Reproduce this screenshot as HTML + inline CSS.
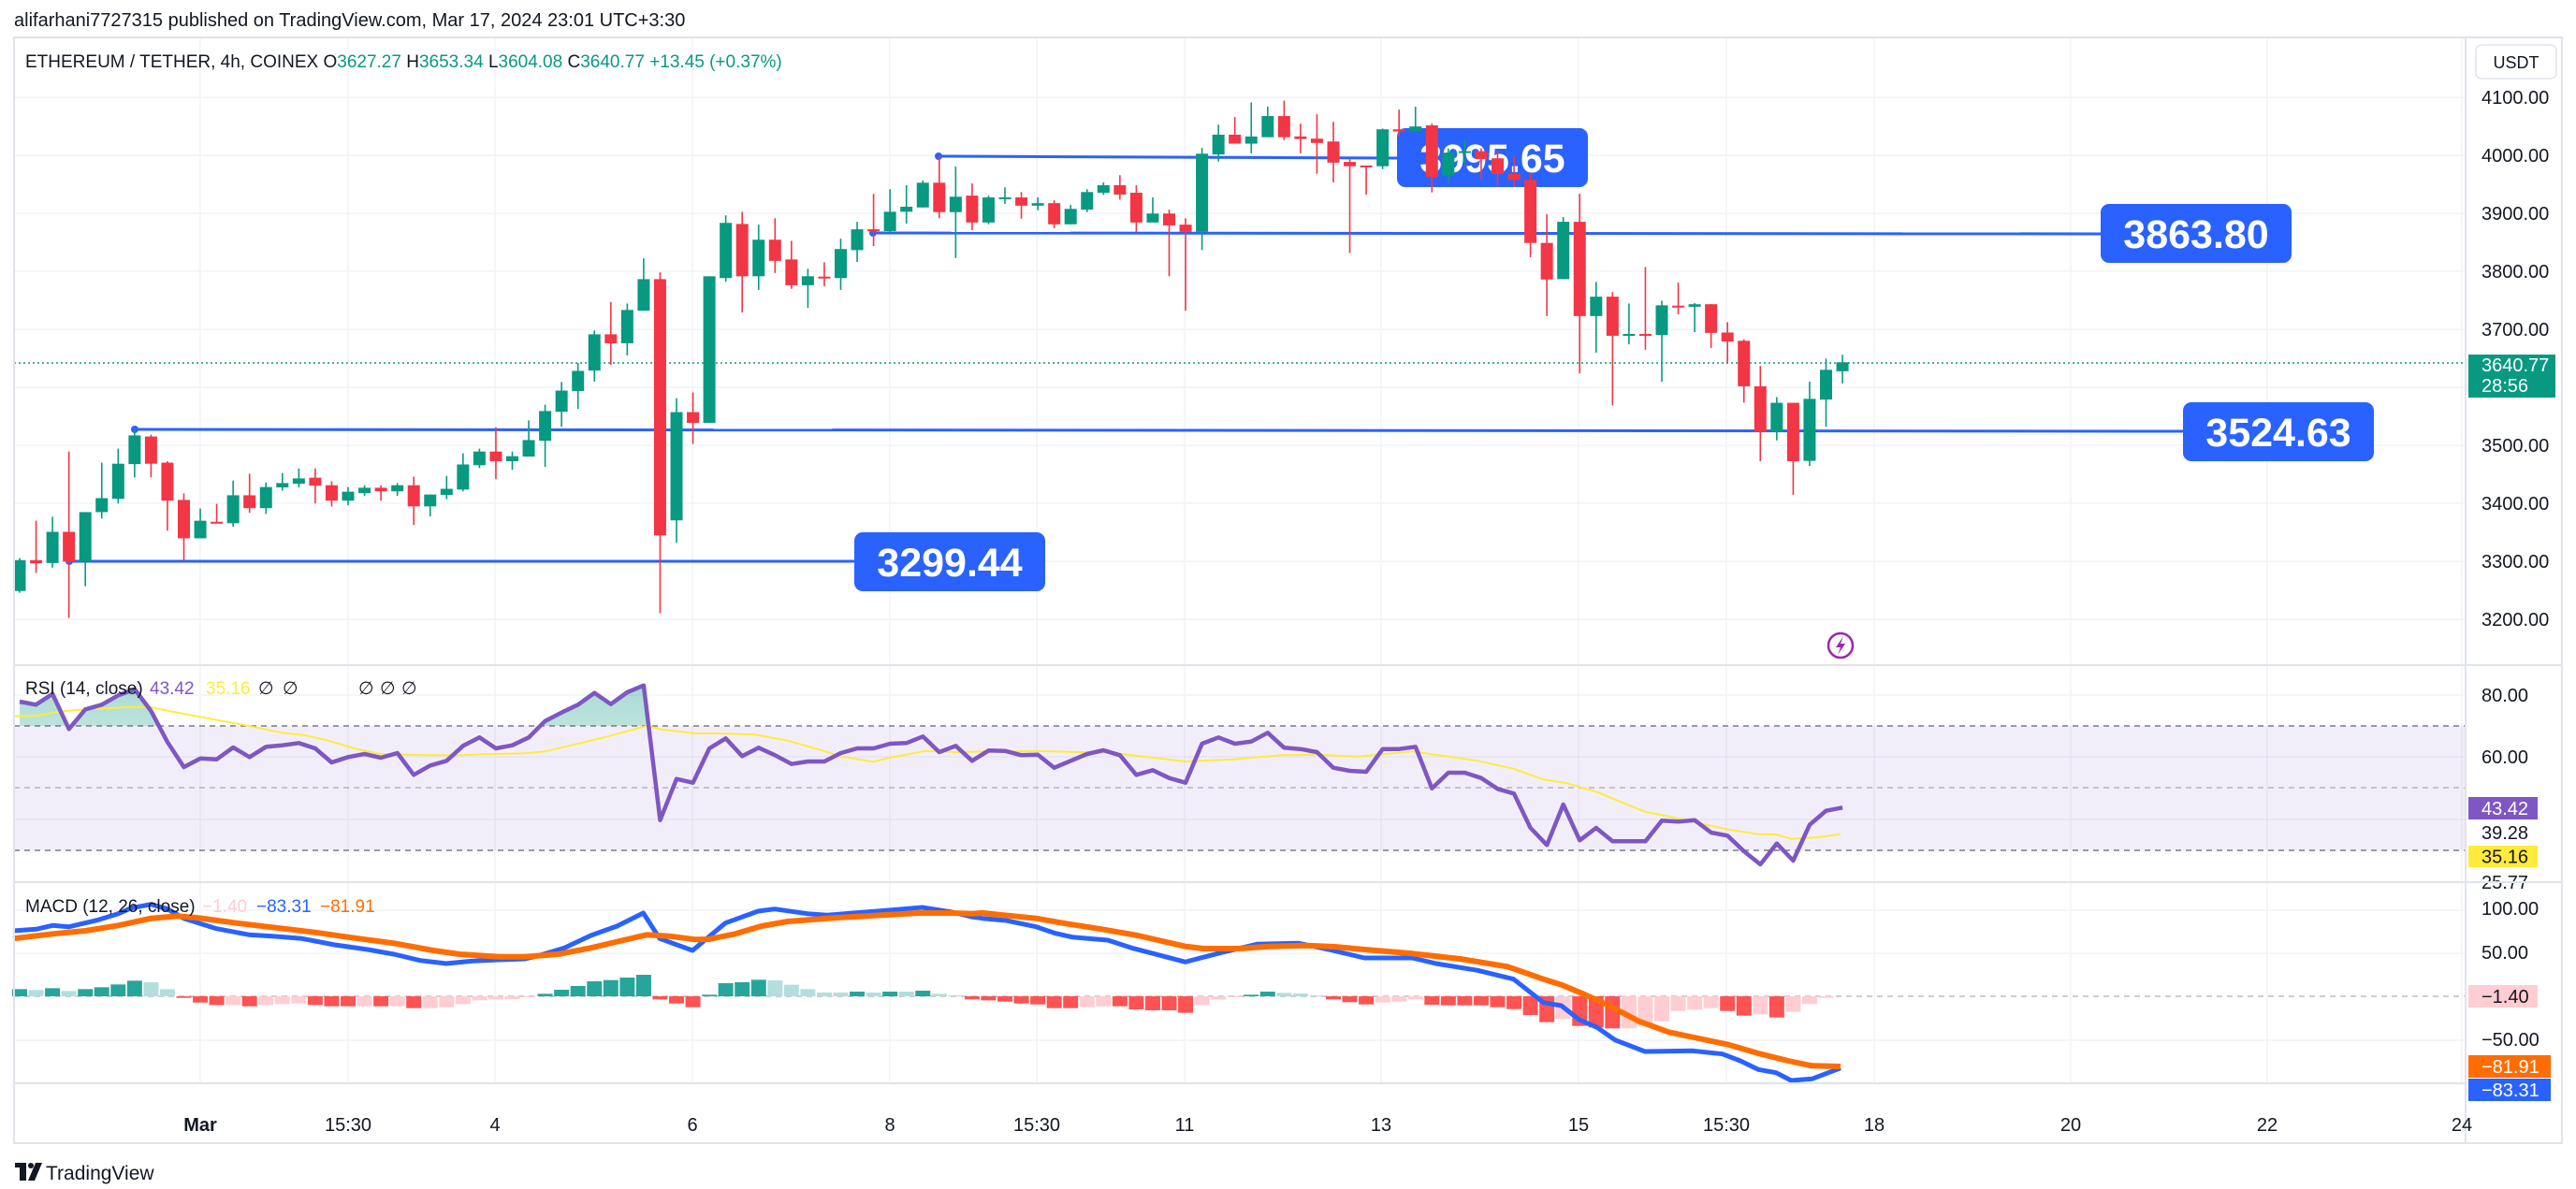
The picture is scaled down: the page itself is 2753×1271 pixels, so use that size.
<!DOCTYPE html>
<html><head><meta charset="utf-8"><style>
html,body{margin:0;padding:0;background:#fff;}
svg{display:block;font-family:"Liberation Sans",Arial,sans-serif;}
</style></head><body>
<svg id="s" width="2753" height="1271" viewBox="0 0 2753 1271" xmlns="http://www.w3.org/2000/svg">
<rect width="2753" height="1271" fill="#fff"/>
<text x="15" y="28" font-size="20" fill="#131722">alifarhani7727315 published on TradingView.com, Mar 17, 2024 23:01 UTC+3:30</text>
<g id="grid"></g>
<rect x="15" y="776" width="2620" height="133" fill="#7e57c2" fill-opacity="0.1"/>
<g stroke="#787b86" stroke-dasharray="6,5" stroke-width="1.5">
<line x1="15" y1="776" x2="2635" y2="776"/><line x1="15" y1="842" x2="2635" y2="842" stroke-opacity="0.5"/><line x1="15" y1="909" x2="2635" y2="909"/>
<line x1="15" y1="1065" x2="2635" y2="1065" stroke-opacity="0.5"/>
</g>
<g id="lines"></g>
<g id="candles"></g>
<g id="rsi"></g>
<g id="macd"></g>
<g id="axis" font-size="20" fill="#131722"></g>
<g id="labels"></g>
<g stroke="#e0e3eb" stroke-width="2" fill="none">
<rect x="15" y="40" width="2723" height="1182"/>
<line x1="2635" y1="40" x2="2635" y2="1222"/>
<line x1="15" y1="711" x2="2738" y2="711"/>
<line x1="15" y1="943" x2="2738" y2="943"/>
<line x1="15" y1="1158" x2="2635" y2="1158"/>
</g>
<g font-size="19">
<text x="27" y="72" fill="#131722">ETHEREUM / TETHER, 4h, COINEX <tspan>O</tspan><tspan fill="#089981">3627.27</tspan> <tspan>H</tspan><tspan fill="#089981">3653.34</tspan> <tspan>L</tspan><tspan fill="#089981">3604.08</tspan> <tspan>C</tspan><tspan fill="#089981">3640.77</tspan> <tspan fill="#089981">+13.45 (+0.37%)</tspan></text>
<text x="27" y="742" fill="#131722">RSI (14, close)</text>
<text x="160" y="742" fill="#7e57c2">43.42</text><text x="220" y="742" fill="#ffeb3b">35.16</text>
<text x="276" y="742" fill="#131722">∅</text><text x="302" y="742" fill="#131722">∅</text>
<text x="383" y="742" fill="#131722">∅</text><text x="406" y="742" fill="#131722">∅</text><text x="429" y="742" fill="#131722">∅</text>
<text x="27" y="975" fill="#131722">MACD (12, 26, close)</text>
<text x="216" y="975" fill="#ffcdd2">−1.40</text><text x="274" y="975" fill="#2962ff">−83.31</text><text x="342" y="975" fill="#ff6d00">−81.91</text>
</g>
<rect x="2646" y="48" width="86" height="36" rx="6" fill="#fff" stroke="#e0e3eb" stroke-width="1.5"/>
<text x="2689" y="73" font-size="18" fill="#131722" text-anchor="middle">USDT</text>
<g id="time" font-size="20" fill="#131722" text-anchor="middle"></g>
<g transform="translate(16,1243)"><rect x="0" y="0" width="12" height="5" fill="#131722"/><rect x="5" y="0" width="7" height="19" fill="#131722"/><circle cx="17" cy="3" r="3" fill="#131722"/><polygon points="22,0 29,0 21,19 14,19" fill="#131722"/></g>
<text x="49" y="1261" font-size="21" fill="#131722">TradingView</text>
<circle cx="1967" cy="690" r="13" fill="#fff" stroke="#9c27b0" stroke-width="2.5"/>
<polygon points="1970,680 1962,692 1967,692 1964,700 1972,688 1967,688" fill="#9c27b0"/>
</svg>
<script>
var NS="http://www.w3.org/2000/svg";
function el(p,t,a,txt){var e=document.createElementNS(NS,t);for(var k in a)e.setAttribute(k,a[k]);if(txt!==undefined)e.textContent=txt;document.getElementById(p).appendChild(e);return e;}
var gx=[214,372,529,740,951,1108,1266,1476,1687,1845,2003,2213,2423,2631];
gx.forEach(function(x){el('grid','line',{x1:x,y1:41,x2:x,y2:1158,stroke:'#f0f3fa','stroke-width':1.5});});
for(var p=4100;p>=3200;p-=100){var y=104+(4100-p)*0.62;el('grid','line',{x1:15,y1:y,x2:2635,y2:y,stroke:'#f0f3fa','stroke-width':1.5});
 if(p!=3600)el('axis','text',{x:2652,y:y+7},p.toFixed(2));}
[743,809,876].forEach(function(y){el('grid','line',{x1:15,y1:y,x2:2635,y2:y,stroke:'#f0f3fa','stroke-width':1.5});});
[973,1019,1112].forEach(function(y){el('grid','line',{x1:15,y1:y,x2:2635,y2:y,stroke:'#f0f3fa','stroke-width':1.5});});
[["Mar",214,1],["15:30",372],["4",529],["6",740],["8",951],["15:30",1108],["11",1266],["13",1476],["15",1687],["15:30",1845],["18",2003],["20",2213],["22",2423],["24",2631]].forEach(function(a){var t=el('time','text',{x:a[1],y:1209},a[0]);if(a[2])t.setAttribute('font-weight','bold');});
el('lines','line',{x1:15,y1:388,x2:2635,y2:388,stroke:'#089981','stroke-width':1.5,'stroke-dasharray':'2,3'});
var LL=[[74,600,913,600,913,569,"3299.44"],[144,459,2333,461,2333,430,"3524.63"],[933,249,2245,250,2245,218,"3863.80"],[1003,167,1493,169,1493,137,"3995.65"]];
LL.forEach(function(l){el('lines','line',{x1:l[0],y1:l[1],x2:l[2],y2:l[3],stroke:'#2962ff','stroke-width':3});
 el('lines','circle',{cx:l[0],cy:l[1],r:4,fill:'#2962ff'});
 el('lines','rect',{x:l[4],y:l[5],width:204,height:63,rx:9,fill:'#2962ff'});
 el('lines','text',{x:l[4]+102,y:l[5]+47,'font-size':43,'font-weight':'bold',fill:'#fff','text-anchor':'middle'},l[6]);});
var C=[[1354,1440,1348,1445,'g'],[1354,1363,1244,1390,'r'],[1275,1362,1233,1375,'g'],[1275,1358,1051,1515,'r'],[1220,1358,1220,1427,'g'],[1181,1220,1082,1238,'g'],[1085,1183,1043,1196,'g'],[1006,1086,990,1123,'g'],[1009,1085,1004,1123,'r'],[1082,1188,1078,1272,'r'],[1186,1293,1168,1355,'r'],[1244,1293,1210,1293,'g'],[1247,1249,1197,1249,'r'],[1173,1251,1132,1261,'g'],[1173,1209,1113,1222,'r'],[1150,1209,1137,1225,'g'],[1139,1151,1111,1160,'g'],[1126,1141,1098,1151,'g'],[1124,1146,1098,1196,'r'],[1145,1188,1134,1204,'r'],[1163,1188,1150,1201,'g'],[1152,1167,1145,1175,'g'],[1152,1162,1145,1188,'r'],[1145,1162,1139,1175,'g'],[1145,1204,1121,1256,'r'],[1171,1204,1171,1232,'g'],[1155,1172,1119,1184,'g'],[1087,1157,1056,1162,'g'],[1051,1089,1043,1097,'g'],[1051,1078,983,1128,'r'],[1064,1078,1051,1102,'g'],[1019,1065,964,1065,'g'],[938,1021,920,1094,'g'],[881,940,857,982,'g'],[826,882,804,932,'g'],[724,825,713,856,'g'],[724,749,634,809,'r'],[656,749,638,783,'g'],[570,658,512,658,'g'],[570,1285,551,1502,'r'],[941,1243,902,1306,'g'],[941,971,886,1030,'r'],[562,971,562,971,'g'],[413,567,392,577,'g'],[416,562,382,663,'r'],[460,562,418,600,'g'],[460,519,400,553,'r'],[515,587,463,597,'r'],[562,587,541,650,'g'],[563,566,523,590,'r'],[486,567,457,600,'g'],[431,489,410,522,'g'],[431,436,332,478,'r'],[382,436,319,440,'g'],[368,382,308,415,'g'],[301,370,295,370,'g'],[301,383,227,400,'r'],[340,383,256,511,'g'],[337,412,303,433,'r'],[342,412,337,417,'g'],[342,345,314,360,'g'],[342,365,327,401,'r'],[358,365,342,378,'g'],[358,417,350,428,'r'],[374,417,363,417,'g'],[327,376,319,383,'g'],[308,329,300,335,'g'],[308,334,280,348,'r'],[329,412,308,438,'r'],[387,412,342,412,'g'],[387,420,376,562,'r'],[418,438,400,658,'r'],[220,438,204,489,'g'],[167,222,139,242,'g'],[167,192,118,192,'r'],[172,192,77,219,'g'],[115,174,89,174,'g'],[115,174,72,182,'r'],[172,179,136,219,'r'],[178,190,110,276,'r'],[186,245,131,300,'r'],[243,255,235,497,'r'],[253,256,253,334,'r'],[152,255,150,263,'g'],[152,158,97,170,'r'],[144,158,89,158,'g'],[141,285,136,328,'r'],[217,281,205,300,'g'],[213,217,180,250,'g'],[213,235,205,292,'r'],[233,276,210,312,'r'],[276,293,225,312,'r'],[293,469,275,509,'r'],[469,571,389,673,'r'],[410,570,397,570,'g'],[410,673,332,833,'r'],[619,673,578,775,'g'],[619,728,606,922,'r'],[723,726,638,752,'g'],[723,726,536,767,'r'],[643,726,630,856,'g'],[644,647,580,668,'r'],[640,647,637,718,'g'],[640,720,640,762,'r'],[719,744,690,806,'r'],[742,869,738,914,'r'],[869,996,812,1078,'r'],[915,996,899,1020,'g'],[915,1078,915,1172,'r'],[904,1077,856,1091,'g'],[823,906,792,982,'g'],[802,827,781,861,'g']];
function Y(z){return 80+z/2.61;}
function X(i){return 21+17.55*i;}
C.forEach(function(c,i){var x=X(i),col=c[4]=='g'?'#089981':'#f23645';
 el('candles','line',{x1:x,y1:Y(c[2]),x2:x,y2:Y(c[3]),stroke:col,'stroke-width':1.6});
 var t=Y(c[0]),b=Y(c[1]);if(b-t<2)b=t+2;
 el('candles','rect',{x:x-6.5,y:t,width:13,height:b-t,fill:col});});
var R1=[150,160,125,238,175,160,130,110,180,280,360,332,335,297,328,295,290,283,300,345,328,318,330,315,385,355,340,292,265,300,290,265,212,185,160,122,158,120,98,530,398,410,300,268,325,298,322,350,342,342,315,300,300,285,283,262,312,292,340,307,308,322,320,362,340,318,306,322,385,370,395,410,285,265,285,278,250,298,302,312,362,372,375,302,302,295,428,378,378,395,430,445,555,610,480,595,555,598,598,598,532,535,530,570,580,630,672,605,660,545,500,490];
var pts=R1.map(function(z,i){return [X(i),700+z/3];});
var ps=pts.map(function(p){return p[0].toFixed(1)+','+p[1].toFixed(1);}).join(' ');
var defs=el('rsi','defs',{});
defs.innerHTML='<linearGradient id="gg" x1="0" y1="0" x2="0" y2="1"><stop offset="0" stop-color="#089981" stop-opacity="0.35"/><stop offset="1" stop-color="#089981" stop-opacity="0"/></linearGradient><clipPath id="cp"><rect x="0" y="700" width="2700" height="76"/></clipPath>';
el('rsi','polygon',{points:X(0)+',776 '+ps+' '+X(111)+',776',fill:'url(#gg)','clip-path':'url(#cp)'});
var Yl=[[20,197],[55,195],[90,182],[130,175],[200,167],[230,168],[270,185],[320,205],[360,220],[430,250],[465,258],[500,275],[540,300],[580,318],[650,322],[700,322],[750,318],[800,316],[830,310],[870,290],[920,265],[955,245],[985,228],[1010,240],[1060,252],[1100,252],[1150,256],[1200,275],[1250,305],[1280,325],[1330,343],[1355,330],[1410,308],[1460,312],[1500,310]].map(function(p){return [p[0]/1.4255,700+p[1]/3];});
var Y2=[[0,312],[90,308],[220,315],[340,342],[420,335],[500,322],[560,320],[630,326],[720,310],[830,340],[890,365],[940,400],[980,412],[1030,440],[1070,472],[1110,503],[1150,518],[1200,540],[1250,560],[1300,575],[1330,576],[1355,590],[1400,585],[1438,575]].map(function(p){return [1050+p[0]/1.568,700+p[1]/3];});
function pl(a){return a.map(function(p){return p[0].toFixed(1)+','+p[1].toFixed(1);}).join(' ');}
el('rsi','polyline',{points:pl(Yl.concat(Y2)),fill:'none',stroke:'#ffeb3b','stroke-width':2});
el('rsi','polyline',{points:ps,fill:'none',stroke:'#7e57c2','stroke-width':4.5,'stroke-linejoin':'round'});
var H=[[1072,'g'],[1075,'lg'],[1069,'g'],[1078,'lg'],[1072,'g'],[1066,'g'],[1057,'g'],[1045,'g'],[1050,'lg'],[1072,'lg'],[1100,'r'],[1115,'r'],[1123,'r'],[1123,'lr'],[1127,'r'],[1123,'lr'],[1120,'lr'],[1118,'lr'],[1123,'r'],[1127,'r'],[1127,'r'],[1127,'lr'],[1127,'r'],[1127,'lr'],[1133,'r'],[1133,'lr'],[1130,'lr'],[1120,'lr'],[1108,'lr'],[1105,'lr'],[1104,'lr'],[1097,'lr'],[1087,'g'],[1074,'g'],[1062,'g'],[1047,'g'],[1043,'g'],[1035,'g'],[1026,'g'],[1105,'r'],[1118,'r'],[1130,'r'],[1090,'g'],[1053,'g'],[1050,'g'],[1042,'g'],[1044,'lg'],[1058,'lg'],[1072,'lg'],[1083,'lg'],[1083,'lg'],[1080,'g'],[1083,'lg'],[1080,'g'],[1080,'lg'],[1077,'g'],[1087,'lg'],[1092,'lg'],[1105,'r'],[1108,'r'],[1112,'r'],[1118,'r'],[1121,'r'],[1133,'r'],[1133,'r'],[1130,'lr'],[1127,'lr'],[1127,'r'],[1137,'r'],[1140,'r'],[1140,'r'],[1148,'r'],[1123,'lr'],[1106,'lr'],[1097,'lr'],[1090,'g'],[1080,'g'],[1084,'lg'],[1086,'lg'],[1092,'lg'],[1105,'r'],[1114,'r'],[1121,'r'],[1115,'lr'],[1112,'lr'],[1105,'lr'],[1122,'r'],[1124,'r'],[1124,'r'],[1124,'r'],[1130,'r'],[1136,'r'],[1155,'r'],[1178,'r'],[1168,'lr'],[1190,'r'],[1195,'r'],[1198,'r'],[1198,'lr'],[1190,'lr'],[1175,'lr'],[1142,'lr'],[1138,'lr'],[1133,'lr'],[1142,'r'],[1157,'r'],[1153,'lr'],[1163,'r'],[1145,'lr'],[1120,'lr'],[1100,'lr']];
var HC={g:'#26a69a',lg:'#b2dfdb',r:'#ff5252',lr:'#ffcdd2'};
H.forEach(function(h,i){var y=700+h[0]/3,z=1065;var t=Math.min(y,z),b=Math.max(y,z);if(b-t<1)b=t+1;
 el('macd','rect',{x:X(i)-8,y:t,width:16,height:b-t,fill:HC[h[1]]});});
function m9(a){return a.map(function(p){return [p[0]/1.4255,700+p[1]/3];});}
function m10(a){return a.map(function(p){return [1050+p[0]/1.568,700+p[1]/3];});}
var B=m9([[20,885],[55,880],[80,868],[105,872],[150,850],[180,830],[200,812],[230,800],[255,815],[280,845],[330,878],[380,898],[420,903],[460,910],[510,930],[560,945],[600,960],[640,980],[680,990],[720,982],[760,978],[800,975],[820,965],[860,940],[900,900],[940,870],[980,828],[1005,910],[1055,948],[1105,860],[1155,822],[1180,815],[1230,830],[1260,835],[1300,828],[1350,820],[1405,810],[1450,825],[1480,840]]).concat(m10([[0,845],[40,852],[90,872],[120,892],[150,905],[210,915],[250,940],[340,985],[400,955],[460,928],[530,925],[580,945],[640,972],[720,972],[760,990],[830,1012],[890,1040],[940,1115],[970,1125],[1000,1170],[1030,1195],[1060,1235],[1110,1272],[1190,1270],[1240,1280],[1270,1302],[1300,1330],[1330,1340],[1355,1365],[1390,1360],[1438,1325]]));
var O=m9([[20,910],[80,895],[130,885],[180,868],[230,845],[270,838],[300,843],[360,860],[420,875],[480,890],[540,908],[600,925],[660,948],[700,960],[760,968],[800,968],[850,960],[900,940],[950,915],[985,898],[1020,902],[1060,913],[1080,912],[1120,895],[1160,870],[1200,855],[1260,845],[1300,840],[1350,834],[1400,828],[1450,828],[1480,830]]).concat(m10([[0,828],[90,845],[140,862],[200,880],[260,900],[340,935],[370,942],[430,942],[480,935],[540,932],[590,936],[640,945],[720,958],[800,975],[880,1000],[940,1040],[970,1058],[1010,1090],[1050,1125],[1100,1175],[1150,1210],[1200,1230],[1250,1250],[1300,1278],[1350,1302],[1390,1318],[1438,1320]]));
el('macd','polyline',{points:pl(B),fill:'none',stroke:'#2962ff','stroke-width':5,'stroke-linejoin':'round'});
el('macd','polyline',{points:pl(O),fill:'none',stroke:'#ff6d00','stroke-width':6,'stroke-linejoin':'round'});
[[80,743],[60,809]].forEach(function(a){el('axis','text',{x:2652,y:a[1]+7},a[0].toFixed(2));});
el('axis','text',{x:2652,y:897},'39.28');
el('axis','text',{x:2652,y:950},'25.77');
[[100,971],[50,1018]].forEach(function(a){el('axis','text',{x:2652,y:a[1]+7},a[0].toFixed(2));});
el('axis','text',{x:2652,y:1118},'−50.00');
function box(y,h,w,bg,fg,t,t2){el('labels','rect',{x:2638,y:y,width:w,height:h,fill:bg});el('labels','text',{x:2652,y:t2?y+18:y+h/2+7,'font-size':20,fill:fg},t);if(t2)el('labels','text',{x:2652,y:y+40,'font-size':20,fill:fg},t2);}
box(379,46,93,'#089981','#fff','3640.77','28:56');
box(852,24,74,'#7e57c2','#fff','43.42');
box(904,23,74,'#ffeb3b','#131722','35.16');
box(1053,24,74,'#ffcdd2','#131722','−1.40');
box(1128,24,88,'#ff6d00','#fff','−81.91');
box(1153,24,88,'#2962ff','#fff','−83.31');
</script>
</body></html>
